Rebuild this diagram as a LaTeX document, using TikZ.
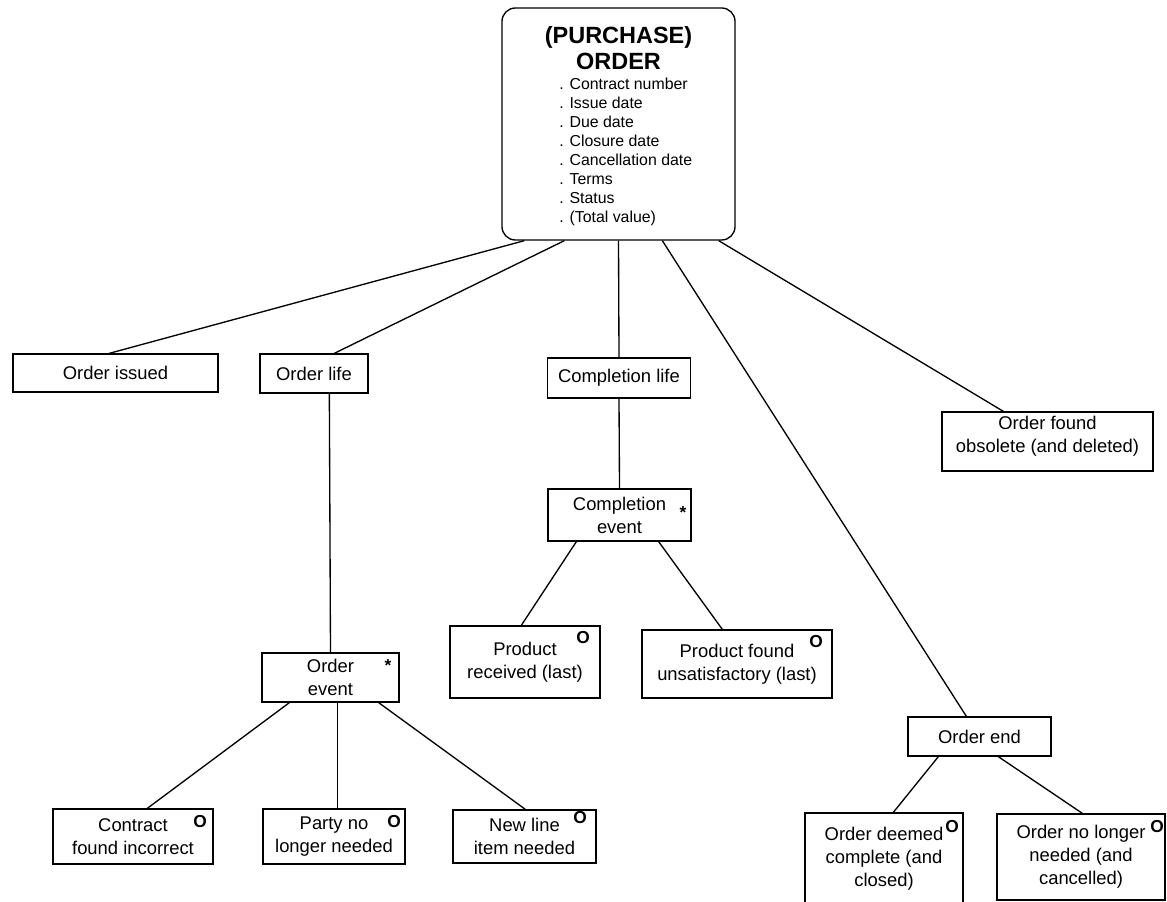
\documentclass[tikz,border=0pt]{standalone}
\usepackage{fontspec}
\setmainfont{Liberation Sans}
\usepackage{tikz}
\usetikzlibrary{calc}

\tikzset{
    box/.style={draw, line width=1pt, align=center, inner sep=0pt,
        font=\fontsize{13.8}{17.25}\selectfont},
    link/.style={line width=1pt},
    marker/.style={font=\fontsize{13}{13}\selectfont\bfseries, inner sep=0pt}
}

\begin{document}
\begin{tikzpicture}[x=0.75pt, y=-0.75pt]
        \useasboundingbox (0,0) rectangle (1167,902);
        \clip (0,0) rectangle (1167,902);

        % Draw the top box
        \node[draw, line width=1pt, rounded corners=10pt, minimum width=174.75pt,
              minimum height=174pt] (root) at (618.5,124) {};
        \node[align=center, inner sep=0pt, font=\fontsize{17.6}{19.5}\selectfont\bfseries]
              (roottitle) at (618.5,48) {(PURCHASE)\\ORDER};
        \node[anchor=west, align=left, inner sep=0pt, font=\fontsize{11.9}{14.25}\selectfont]
              (rootattrs) at (559,151.5) {. Contract number\\. Issue date\\. Due date\\
              . Closure date\\. Cancellation date\\. Terms\\. Status\\. (Total value)};

        % Draw the second level
        \node[box, minimum width=153.75pt, minimum height=28.5pt] (issued) at (115.5,373) {Order issued};
        \node[box, minimum width=81pt, minimum height=29.25pt] (life) at (314,373.5) {Order life};
        \node[box, minimum width=107.25pt, minimum height=30pt] (complife) at (619,378) {Completion life};
        \node[box, minimum width=158.25pt, minimum height=44.25pt] (obsolete) at (1047.5,441.5)
              {Order found\\obsolete (and deleted)\\[-6pt]};
        \node[box, minimum width=107.25pt, minimum height=29.25pt] (ordend) at (979.5,736.5) {Order end};

        % Draw the event boxes
        \node[box, minimum width=107.25pt, minimum height=39pt] (compev) at (619.5,515) {Completion\\event};
        \node[box, minimum width=102.75pt, minimum height=36.75pt] (ordev) at (330.5,677.5) {Order\\event};
        \node[marker] (compev-star) at (683,513) {*};
        \node[marker] (ordev-star) at (388,666) {*};

        % Draw the leaves
        \node[box, minimum width=112.5pt, minimum height=54pt] (prodrec) at (525,662) {Product\\received (last)};
        \node[box, minimum width=142.5pt, minimum height=51pt] (produns) at (737,664)
              {Product found\\unsatisfactory (last)};
        \node[box, minimum width=120pt, minimum height=41.25pt] (contract) at (133,836.5)
              {Contract\\found incorrect};
        \node[box, minimum width=106.5pt, minimum height=41.25pt] (party) at (334,836.5)
              {Party no\\longer needed};
        \node[box, minimum width=107.25pt, minimum height=39.75pt] (newline) at (524.5,836.5)
              {New line\\item needed};
        \node[box, minimum width=118.5pt, minimum height=69pt] (deemed) at (884,859)
              {Order deemed\\complete (and\\closed)};
        \node[box, minimum width=126pt, minimum height=64.5pt] (nolonger) at (1081,857)
              {Order no longer\\needed (and\\cancelled)};

        % Option markers
        \node[marker] (prodrec-o) at (583,638) {O};
        \node[marker] (produns-o) at (816,642) {O};
        \node[marker] (contract-o) at (200,822) {O};
        \node[marker] (party-o) at (394,822) {O};
        \node[marker] (newline-o) at (580,818) {O};
        \node[marker] (deemed-o) at (952,827) {O};
        \node[marker] (nolonger-o) at (1157,827) {O};

        % Draw the connectors
        \draw[link] ($(root.south west)+(23,0)$) -- ($(issued.north west)+(97,0)$);
        \draw[link] ($(root.south west)+(63,0)$) -- ($(life.north west)+(75,0)$);
        \draw[link] (root.south) -- (complife.north);
        \draw[link] ($(root.south west)+(161,0)$) -- ($(ordend.north west)+(59,0)$);
        \draw[link] ($(root.south east)+(-17,0)$) -- ($(obsolete.north west)+(62,0)$);
        \draw[link] ($(life.south west)+(70,0)$) -- (ordev.north);
        \draw[link] (complife.south) -- (compev.north);
        \draw[link] ($(compev.south west)+(29,0)$) -- ($(prodrec.north west)+(72,0)$);
        \draw[link] ($(compev.south east)+(-33,0)$) -- ($(produns.north west)+(81,0)$);
        \draw[link] ($(ordev.south west)+(28,0)$) -- ($(contract.north west)+(95,0)$);
        \draw[link] ($(ordev.south west)+(76,0)$) -- ($(party.north west)+(75,0)$);
        \draw[link] ($(ordev.south east)+(-21,0)$) -- ($(newline.north west)+(73,0)$);
        \draw[link] ($(ordend.south west)+(31,0)$) -- ($(deemed.north west)+(89,0)$);
        \draw[link] ($(ordend.south west)+(91,0)$) -- ($(nolonger.north west)+(86,0)$);
    \end{tikzpicture}
\end{document}
